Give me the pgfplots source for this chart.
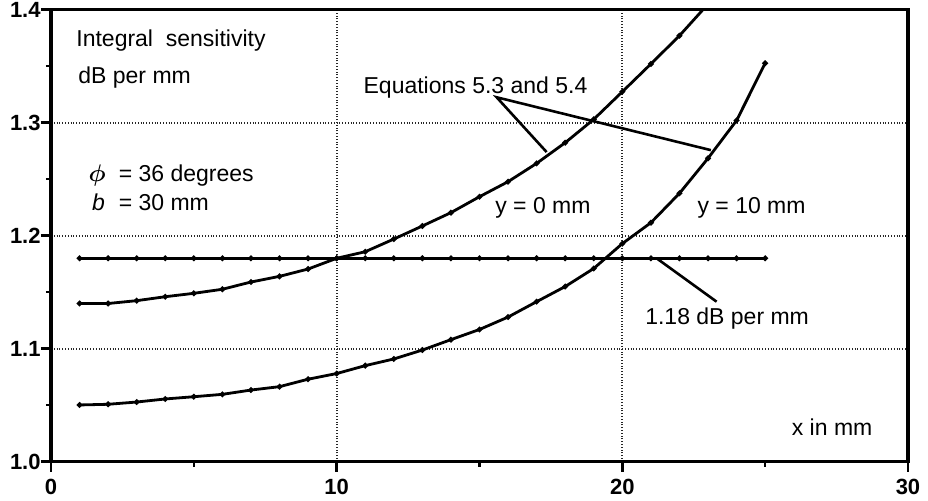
\documentclass[border=0pt]{standalone}
\usepackage{pgfplots}
\pgfplotsset{compat=1.18}
\usepackage{amsmath}
\usepackage{fontspec}
\setmainfont{Liberation Sans}
\begin{document}
\begin{tikzpicture}
\begin{axis}[
  name=ax,
  scale only axis,
  width=428.5pt, height=226pt,
  xmin=0, xmax=30, ymin=1.0, ymax=1.4,
  xtick={0,10,20,30}, ytick={1.0,1.1,1.2,1.3,1.4},
  minor x tick num=1, minor y tick num=1,
  tick pos=left, tick align=outside,
  major tick length=5pt, minor tick length=2.5pt,
  every tick/.style={black, line width=1.3pt},
  axis line style={line width=1.7pt},
  grid=major,
  major grid style={black!85, densely dotted, line width=0.9pt},
  /pgf/number format/assume math mode=true,
  ticklabel style={font=\bfseries\fontsize{11}{11}\selectfont},
  yticklabel style={/pgf/number format/.cd, fixed, fixed zerofill, precision=1},
  xticklabel style={yshift=-3.5pt, /pgf/number format/.cd, fixed, precision=0},
  clip=true,
]
\addplot[black, line width=1.4pt, mark=*, mark size=0.6pt] coordinates {
(1,1.140) (2,1.140) (3,1.1425) (4,1.146) (5,1.149) (6,1.1526) (7,1.159)
(8,1.164) (9,1.1705) (10,1.180) (11,1.1858) (12,1.197) (13,1.2086)
(14,1.2204) (15,1.2345) (16,1.2478) (17,1.264) (18,1.2823) (19,1.303)
(20,1.3274) (21,1.352) (22,1.377) (23,1.405)
};
\addplot[black, line width=1.4pt, mark=*, mark size=0.6pt] coordinates {
(1,1.0502) (2,1.0508) (3,1.0528) (4,1.0555) (5,1.0575) (6,1.0596)
(7,1.0634) (8,1.0664) (9,1.073) (10,1.078) (11,1.085) (12,1.0909)
(13,1.0988) (14,1.108) (15,1.117) (16,1.128) (17,1.1416) (18,1.155)
(19,1.171) (20,1.193) (21,1.2115) (22,1.2375) (23,1.2685) (24,1.302)
(25,1.3526)
};
\addplot[black, line width=1.4pt, mark=*, mark size=0.6pt] coordinates {
(1,1.18) (2,1.18) (3,1.18) (4,1.18) (5,1.18) (6,1.18) (7,1.18) (8,1.18)
(9,1.18) (10,1.18) (11,1.18) (12,1.18) (13,1.18) (14,1.18) (15,1.18)
(16,1.18) (17,1.18) (18,1.18) (19,1.18) (20,1.18) (21,1.18) (22,1.18)
(23,1.18) (24,1.18) (25,1.18)
};
% callout lines
\draw[line width=1.3pt] (axis cs:17.35,1.274) -- (axis cs:15.6,1.3225) -- (axis cs:23.1,1.2757);
\draw[line width=1.3pt] (axis cs:21.2,1.18) -- (axis cs:23.3,1.1416);
% texts
\tikzset{every node/.style={font=\fontsize{11.5}{11.5}\selectfont, inner sep=0pt}}
\node[anchor=base west] at (axis cs:0.875,1.3673) {Integral\ \ sensitivity};
\node[anchor=base west] at (axis cs:0.945,1.3349) {dB per mm};
\node[anchor=base west] at (axis cs:1.30,1.2478) {$\boldsymbol{\phi}$};
\node[anchor=base west] at (axis cs:2.36,1.2478) {=\ 36\ degrees};
\node[anchor=base west] at (axis cs:1.43,1.2227) {\textit{b}};
\node[anchor=base west] at (axis cs:2.36,1.2227) {=\ 30\ mm};
\node[anchor=base west] at (axis cs:10.93,1.326) {Equations 5.3 and 5.4};
\node[anchor=base west] at (axis cs:15.54,1.2198) {y = 0\ mm};
\node[anchor=base west] at (axis cs:22.62,1.2198) {y = 10\ mm};
\node[anchor=base west] at (axis cs:20.79,1.121) {1.18 dB per mm};
\node[anchor=base west] at (axis cs:25.92,1.0236) {x in mm};
\end{axis}
\pgfresetboundingbox
\path[use as bounding box] ([xshift=-25.5pt,yshift=-19.65pt]ax.south west) rectangle ([xshift=10pt,yshift=4.85pt]ax.north east);
\end{tikzpicture}
\end{document}
